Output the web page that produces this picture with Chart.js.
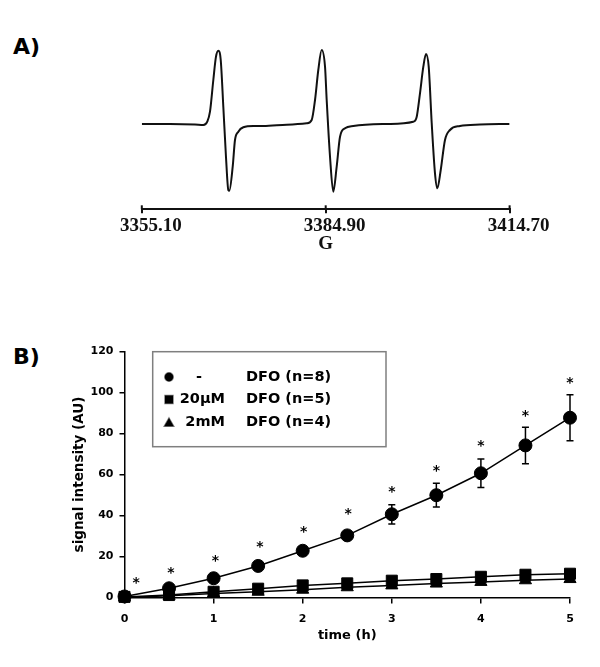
<!DOCTYPE html>
<html>
<head>
<meta charset="utf-8">
<script src="https://cdn.jsdelivr.net/npm/chart.js@4"></script>
<style>
  body { margin: 0; background: #fff; }
  #wrap { position: relative; width: 600px; height: 667px; }
  .tag { position: absolute; left: 13px; font: bold 22px "DejaVu Sans"; line-height: 1; color: #000; }
  #chartA { position: absolute; left: 0; top: 0; }
  #chartB { position: absolute; left: 0; top: 300px; }
</style>
</head>
<body>
<div id="wrap">
  <div class="tag" style="top:36px">A)</div>
  <canvas id="chartA" width="600" height="270"></canvas>
  <div class="tag" style="top:346px">B)</div>
  <canvas id="chartB" width="600" height="367"></canvas>
</div>
<script>
// --- Panel A: EPR spectrum (field in G, signal in arbitrary units) ---
const fieldG = [3355.10, 3359.67, 3363.72, 3365.07, 3365.71, 3366.15, 3366.69, 3367.12, 3367.50, 3367.89,
  3368.31, 3368.74, 3369.12, 3369.28, 3369.83, 3370.20, 3370.74, 3371.55, 3373.17, 3374.79,
  3378.58, 3381.82, 3382.63, 3383.17, 3383.70, 3384.25, 3384.79, 3385.06, 3385.60, 3386.13,
  3386.68, 3387.22, 3388.03, 3389.37, 3394.79, 3399.10, 3399.65, 3400.18, 3400.72, 3401.15,
  3401.59, 3402.08, 3402.61, 3402.99, 3403.54, 3404.23, 3405.04, 3406.66, 3409.91, 3414.70];
const eprSignal = [0, 0, -0.5, -1, 2.3, 12.3, 44, 67.3, 73.3, 64,
  17.3, -32.7, -66, -66.7, -42.7, -16, -7.7, -3.3, -2, -2,
  -0.7, 0.7, 4, 24, 54, 74, 57.3, 24, -32.7, -67.7,
  -42.7, -12.7, -4.3, -2, 0, 2.3, 7.3, 30.7, 57.3, 70,
  57.3, 0.7, -49.3, -64.3, -46, -16, -6, -2, -0.5, 0];
const fieldTicks = [3355.10, 3384.90, 3414.70];
const fieldTickLabels = ['3355.10', '3384.90', '3414.70'];

// --- Panel B: signal intensity over time ---
const timeH = [0, 0.5, 1, 1.5, 2, 2.5, 3, 3.5, 4, 4.5, 5];
const noDfo = [0.5, 4.5, 9.4, 15.4, 22.8, 30.3, 40.6, 49.9, 60.6, 74.2, 87.7];
const noDfoErr = [0.3, 0.8, 1, 1.2, 1.4, 1.8, 4.7, 5.8, 7, 8.9, 11.2];
const dfo20uM = [0.3, 1.2, 2.8, 4.3, 5.9, 6.9, 8.2, 9.0, 10.1, 11.1, 11.6];
const dfo2mM = [0, 0.8, 2.0, 2.8, 3.8, 5.0, 5.9, 6.8, 7.6, 8.4, 9.0];
const starTimes = [0.13, 0.52, 1.02, 1.52, 2.01, 2.51, 3.0, 3.5, 4.0, 4.5, 5.0];
const starLevels = [8.5, 13.4, 19.1, 26, 33.3, 41.9, 52.8, 63, 75.2, 89.9, 106.1];
const legendDose = ['-', '20µM', '2mM'];
const legendLabel = ['DFO (n=8)', 'DFO (n=5)', 'DFO (n=4)'];
const legendStyle = ['circle', 'rect', 'triangle'];

const black = '#000';
const boldSans = size => ({ family: '"DejaVu Sans"', weight: 'bold', size: size });

// the field axis has ticks crossing the line, so draw the upper half too
const upperTicks = {
    id: 'upperTicks',
    afterDraw(chart) {
        const { ctx, scales: { x }, chartArea } = chart;
        ctx.save();
        ctx.strokeStyle = '#111';
        ctx.lineWidth = 2;
        x.ticks.forEach(t => {
            const px = x.getPixelForValue(t.value);
            ctx.beginPath();
            ctx.moveTo(px, chartArea.bottom - 4);
            ctx.lineTo(px, chartArea.bottom);
            ctx.stroke();
        });
        ctx.restore();
    }
};

new Chart(document.getElementById('chartA'), {
    type: 'line',
    data: {
        datasets: [{
            data: fieldG.map((g, i) => ({ x: g, y: eprSignal[i] })),
            borderColor: '#111',
            borderWidth: 2,
            pointRadius: 0,
            cubicInterpolationMode: 'monotone',
            fill: false
        }]
    },
    options: {
        responsive: false,
        animation: false,
        events: [],
        layout: { padding: { left: 141.8, right: 90.4, top: 40, bottom: 0 } },
        plugins: { legend: { display: false }, tooltip: { enabled: false } },
        scales: {
            x: {
                type: 'linear',
                min: 3355.10,
                max: 3414.70,
                afterBuildTicks: s => { s.ticks = fieldTicks.map(v => ({ value: v })); },
                afterFit: s => { s.height = 60.7; },
                border: { color: '#111', width: 2 },
                grid: { drawOnChartArea: false, color: '#111', lineWidth: 2, tickLength: 4 },
                ticks: {
                    labelOffset: 9,
                    padding: 1,
                    color: '#111',
                    maxRotation: 0,
                    font: { family: '"Liberation Serif"', weight: 'bold', size: 19 },
                    callback: (v, i) => fieldTickLabels[i]
                },
                title: {
                    display: true,
                    text: 'G',
                    color: '#111',
                    font: { family: '"Liberation Serif"', weight: 'bold', size: 19 },
                    padding: { top: 0, bottom: 15 }
                }
            },
            y: { display: false, min: -85.3, max: 84 }
        }
    },
    plugins: [upperTicks]
});

// error bars under the circle markers
const errorBars = {
    id: 'errorBars',
    beforeDatasetsDraw(chart) {
        const { ctx, scales: { x, y } } = chart;
        ctx.save();
        ctx.strokeStyle = black;
        ctx.lineWidth = 1.5;
        timeH.forEach((t, i) => {
            const px = x.getPixelForValue(t);
            const top = y.getPixelForValue(noDfo[i] + noDfoErr[i]);
            const bot = y.getPixelForValue(noDfo[i] - noDfoErr[i]);
            ctx.beginPath();
            ctx.moveTo(px, top); ctx.lineTo(px, bot);
            ctx.moveTo(px - 3.5, top); ctx.lineTo(px + 3.5, top);
            ctx.moveTo(px - 3.5, bot); ctx.lineTo(px + 3.5, bot);
            ctx.stroke();
        });
        ctx.restore();
    }
};

// significance stars and the boxed legend
const annotations = {
    id: 'annotations',
    afterDraw(chart) {
        const { ctx, scales: { x, y } } = chart;
        ctx.save();
        ctx.fillStyle = black;
        ctx.font = 'bold 14px "DejaVu Sans"';
        ctx.textAlign = 'center';
        ctx.textBaseline = 'middle';
        starTimes.forEach((t, i) => {
            ctx.fillText('*', x.getPixelForValue(t), y.getPixelForValue(starLevels[i]) + 3);
        });

        ctx.strokeStyle = '#7f7f7f';
        ctx.lineWidth = 1.5;
        ctx.strokeRect(152.7, 51.7, 233.3, 95);

        const rows = [77, 99.5, 122];
        const sizes = [4.2, 5.7, 5.4];
        ctx.font = 'bold 14.5px "DejaVu Sans"';
        rows.forEach((ry, i) => {
            Chart.helpers.drawPoint(ctx, {
                pointStyle: legendStyle[i], radius: sizes[i], rotation: 0, borderWidth: 1
            }, 169, legendStyle[i] === 'triangle' ? ry + 1.5 : ry);
            ctx.fill();
            if (i === 0) {
                ctx.textAlign = 'center';
                ctx.fillText(legendDose[i], 199, ry);
            } else {
                ctx.textAlign = 'right';
                ctx.fillText(legendDose[i], 225, ry);
            }
            ctx.textAlign = 'left';
            ctx.fillText(legendLabel[i], 246, ry);
        });
        ctx.restore();
    }
};

function series(values, style, radius) {
    return {
        data: timeH.map((t, i) => ({ x: t, y: values[i] })),
        borderColor: black,
        backgroundColor: black,
        borderWidth: 1.5,
        pointStyle: style,
        pointRadius: radius,
        pointBackgroundColor: black,
        pointBorderColor: black,
        pointBorderWidth: 1,
        tension: 0,
        clip: false
    };
}

new Chart(document.getElementById('chartB'), {
    type: 'line',
    data: {
        datasets: [
            series(dfo2mM, 'triangle', 7),
            series(dfo20uM, 'rect', 7.8),
            series(noDfo, 'circle', 6.5)
        ]
    },
    options: {
        responsive: false,
        animation: false,
        events: [],
        layout: { padding: { left: 62, right: 30, top: 51.5, bottom: 0 } },
        plugins: { legend: { display: false }, tooltip: { enabled: false } },
        scales: {
            x: {
                type: 'linear',
                min: 0,
                max: 5,
                afterFit: s => { s.height = 69.5; },
                border: { color: black, width: 1.5 },
                grid: { drawOnChartArea: false, color: black, lineWidth: 1.5, tickLength: 6 },
                ticks: { stepSize: 1, padding: 9, color: black, font: boldSans(11) },
                title: {
                    display: true, text: 'time (h)', color: black,
                    font: boldSans(13), padding: { top: 0, bottom: 24 }
                }
            },
            y: {
                min: 0,
                max: 120,
                afterFit: s => { s.width = 62.5; },
                border: { color: black, width: 1.5 },
                grid: { drawOnChartArea: false, color: black, lineWidth: 1.5, tickLength: 5 },
                ticks: { stepSize: 20, padding: 6, color: black, font: boldSans(11) },
                title: {
                    display: true, text: 'signal intensity (AU)', color: black,
                    font: boldSans(13.5), padding: { top: 9, bottom: 0 }
                }
            }
        }
    },
    plugins: [errorBars, annotations]
});
</script>
</body>
</html>
